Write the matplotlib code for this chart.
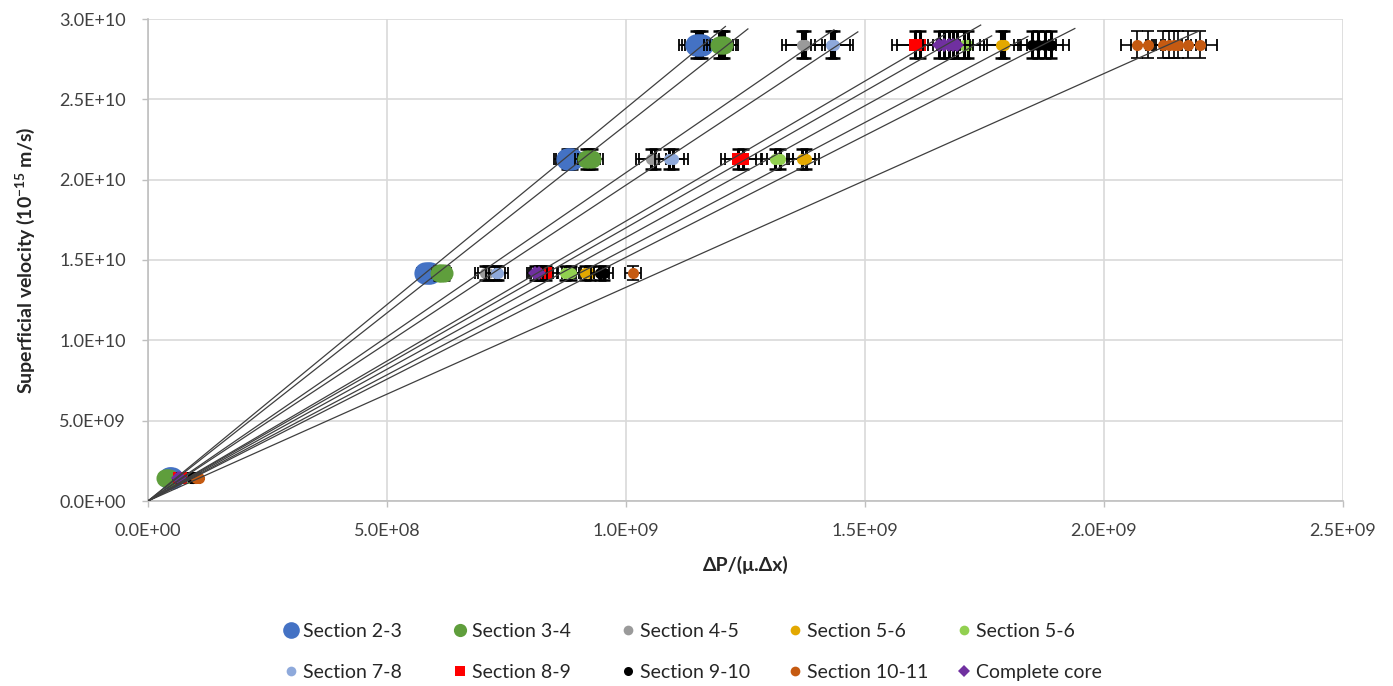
import matplotlib
matplotlib.use('Agg')
import matplotlib.pyplot as plt
import numpy as np
from matplotlib.lines import Line2D
from matplotlib.ticker import FuncFormatter, MultipleLocator

plt.rcParams['font.family'] = ['Lato', 'DejaVu Sans']
plt.rcParams['mathtext.fontset'] = 'custom'
plt.rcParams['mathtext.rm'] = 'Lato'
plt.rcParams['mathtext.bf'] = 'Lato:bold'

# Superficial velocity levels (10^-15 m/s)
velocity_levels = [1.42e9, 1.42e10, 2.13e10, 2.84e10]

# dP/(mu.dx) readings per velocity level, in units of 1e9 (empty = no point)
sec23_dp = [[0.043, 0.047, 0.050], [0.580, 0.585, 0.590], [0.876, 0.881, 0.887], [1.146, 1.152, 1.158]]
sec34_dp = [[0.036, 0.040, 0.043], [0.609, 0.614, 0.619], [0.917, 0.923, 0.929], [1.194, 1.200, 1.205]]
sec45_dp = [[0.066, 0.069], [0.705, 0.711], [1.053, 1.060], [1.368, 1.375]]
sec56a_dp = [[0.089, 0.094, 0.099], [0.914, 0.924], [1.368, 1.377], [1.784, 1.791]]
sec56b_dp = [[0.082, 0.086], [0.873, 0.884], [1.311, 1.322], [1.707, 1.715]]
sec78_dp = [[0.070, 0.073], [0.727, 0.733], [1.091, 1.099], [1.428, 1.435]]
sec89_dp = [[0.064, 0.069], [0.822, 0.833], [1.235, 1.245], [1.605, 1.616]]
sec910_dp = [[0.092, 0.095], [0.946, 0.953], [], [1.849, 1.862, 1.876, 1.889]]
sec1011_dp = [[0.100, 0.106], [1.015], [], [2.070, 2.092, 2.124, 2.136, 2.146, 2.155, 2.176, 2.200]]
core_dp = [[0.062, 0.066], [0.810, 0.818], [], [1.655, 1.665, 1.675, 1.685, 1.692]]

series_labels = ["Section 2-3", "Section 3-4", "Section 4-5", "Section 5-6", "Section 5-6",
                 "Section 7-8", "Section 8-9", "Section 9-10", "Section 10-11", "Complete core"]
series_dp = [sec23_dp, sec34_dp, sec45_dp, sec56a_dp, sec56b_dp,
             sec78_dp, sec89_dp, sec910_dp, sec1011_dp, core_dp]
colors = ["#4472C4", "#5F9E3C", "#9A9A9A", "#E3A800", "#92D050",
          "#8EA9DB", "#FF0000", "#000000", "#C55A11", "#7030A0"]
markers = ['o', 'o', 'o', 'o', 'o', 'o', 's', 'o', 'o', 'D']
msizes = [16, 13, 8, 8, 8, 8, 8, 8, 8, 7]
legend_sizes = [12, 9.5, 7, 7, 7, 7, 7, 6.5, 7, 6]
xerr_frac = [0.03, 0.025, 0.03, 0.02, 0.02, 0.028, 0.03, 0.02, 0.017, 0.02]
yerr_frac = 0.03
yerr_lw = [2.2, 2.2, 2.2, 2.2, 2.2, 2.2, 2.2, 2.2, 1.2, 2.2]
trend_forward = [0.05e9, 0.05e9, 0.06e9, 0.05e9, 0.05e9, 0.05e9, 0.05e9, 0.05e9, 0.0, 0.05e9]

W, H = 1393, 686
fig = plt.figure(figsize=(W / 100, H / 100), dpi=100)
ax = fig.add_axes([148/W, 1-501/H, (1343-148)/W, (501-19)/H])

for i, dp in enumerate(series_dp):
    xs, ys = [], []
    for lvl, vals in zip(velocity_levels, dp):
        for v in vals:
            xs.append(v * 1e9)
            ys.append(lvl)
    xs = np.array(xs)
    ys = np.array(ys)
    z = 2 + i * 0.03
    ax.errorbar(xs, ys, xerr=xs * xerr_frac[i], fmt='none',
                ecolor='black', elinewidth=1.2, capsize=4.3, capthick=1.3, zorder=z)
    ax.errorbar(xs, ys, yerr=ys * yerr_frac, fmt='none',
                ecolor='black', elinewidth=yerr_lw[i], capsize=4.3,
                capthick=min(yerr_lw[i], 1.8), zorder=z + 0.01)
    ax.plot(xs, ys, linestyle='none', marker=markers[i], color=colors[i],
            markersize=msizes[i], markeredgewidth=0, zorder=z + 0.02)
    slope = np.sum(xs * ys) / np.sum(xs * xs)
    xe = xs.max() + trend_forward[i]
    ax.plot([0, xe], [0, slope * xe], color='#3F3F3F', lw=0.9, zorder=4)

ax.set_xlim(0, 2.5e9)
ax.set_ylim(0, 3.0e10)
ax.xaxis.set_major_locator(MultipleLocator(5e8))
ax.yaxis.set_major_locator(MultipleLocator(5e9))
fmt = FuncFormatter(lambda v, p: f"{v:.1E}")
ax.xaxis.set_major_formatter(fmt)
ax.yaxis.set_major_formatter(fmt)
ax.grid(True, color='#D9D9D9', linewidth=1.2, zorder=0)
ax.set_axisbelow(True)
for s in ['top', 'right']:
    ax.spines[s].set_visible(False)
for s in ['left', 'bottom']:
    ax.spines[s].set_color('#BFBFBF')
    ax.spines[s].set_linewidth(1.2)
ax.tick_params(axis='both', which='major', labelsize=13, labelcolor='#404040',
               color='#BFBFBF', length=4, width=1.0)
ax.tick_params(axis='x', pad=12)
ax.tick_params(axis='y', pad=12)

ax.set_xlabel("ΔP/(μ.Δx)", fontsize=14, fontweight='bold', color='#262626', labelpad=12)
ax.set_ylabel(r"Superficial velocity (10$^{\mathbf{-15}}$ m/s)", fontsize=14,
              fontweight='bold', color='#262626', labelpad=16)

# legend: 5 equal-width columns, 2 rows (row-wise order as in the original)
col_marker_px = [291, 460, 628, 795, 964]
fs = 14
hl = 0.9
for c in range(5):
    idx = [c, c + 5]
    hs = [Line2D([], [], linestyle='none', marker=markers[i], color=colors[i],
                 markersize=legend_sizes[i], markeredgewidth=0) for i in idx]
    lg = fig.legend(hs, [series_labels[i] for i in idx], loc='center left',
                    bbox_to_anchor=((col_marker_px[c] - hl * fs * 1.389 / 2) / W, 1 - 652 / H),
                    frameon=False, fontsize=fs, handletextpad=0.15, handlelength=hl,
                    labelspacing=1.25, borderpad=0, borderaxespad=0)
    for t in lg.get_texts():
        t.set_color('#262626')

fig.savefig('out.png', dpi=100)
